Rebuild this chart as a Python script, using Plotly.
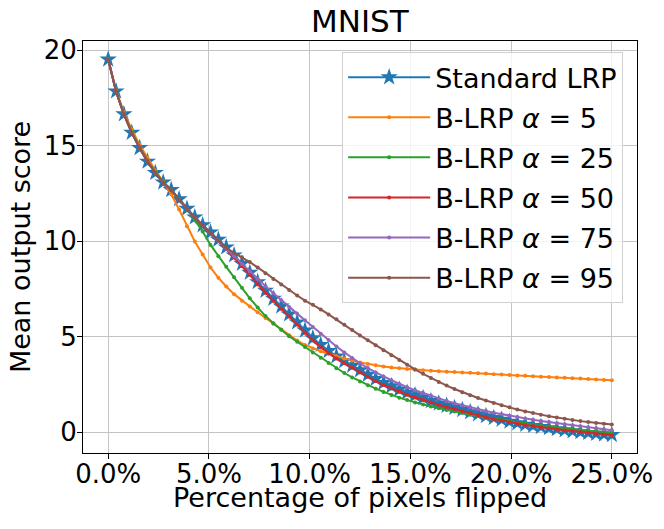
import plotly.graph_objects as go

pct_flipped = [0.00, 0.39, 0.78, 1.17, 1.56, 1.95, 2.34, 2.73, 3.13, 3.52,
               3.91, 4.30, 4.69, 5.08, 5.47, 5.86, 6.25, 6.64, 7.03, 7.42,
               7.81, 8.20, 8.59, 8.98, 9.38, 9.77, 10.16, 10.55, 10.94, 11.33,
               11.72, 12.11, 12.50, 12.89, 13.28, 13.67, 14.06, 14.45, 14.84, 15.23,
               15.63, 16.02, 16.41, 16.80, 17.19, 17.58, 17.97, 18.36, 18.75, 19.14,
               19.53, 19.92, 20.31, 20.70, 21.09, 21.48, 21.88, 22.27, 22.66, 23.05,
               23.44, 23.83, 24.22, 24.61, 25.00]

standard_lrp = [19.52, 17.85, 16.65, 15.68, 14.88, 14.17, 13.58, 13.08, 12.68, 12.20,
                11.70, 11.25, 10.84, 10.46, 10.08, 9.68, 9.26, 8.82, 8.35, 7.86,
                7.41, 6.99, 6.58, 6.17, 5.75, 5.32, 4.92, 4.57, 4.25, 3.97,
                3.72, 3.48, 3.24, 3.01, 2.79, 2.58, 2.40, 2.23, 2.07, 1.93,
                1.79, 1.63, 1.50, 1.38, 1.27, 1.16, 1.05, 0.94, 0.84, 0.74,
                0.65, 0.55, 0.47, 0.39, 0.33, 0.27, 0.21, 0.16, 0.10, 0.05,
                0.00, -0.04, -0.08, -0.12, -0.15]

blrp_a5 = [19.52, 17.90, 16.75, 15.85, 15.05, 14.35, 13.70, 13.12, 12.45, 11.65,
           10.78, 9.98, 9.30, 8.62, 8.08, 7.62, 7.22, 6.88, 6.58, 6.27,
           5.97, 5.67, 5.37, 5.07, 4.79, 4.56, 4.38, 4.23, 4.10, 3.97,
           3.85, 3.74, 3.64, 3.56, 3.49, 3.43, 3.38, 3.34, 3.30, 3.27,
           3.24, 3.21, 3.18, 3.16, 3.14, 3.12, 3.10, 3.08, 3.06, 3.03,
           3.01, 2.98, 2.96, 2.94, 2.92, 2.90, 2.88, 2.86, 2.84, 2.82,
           2.80, 2.77, 2.75, 2.73, 2.71]

blrp_a25 = [19.52, 17.85, 16.68, 15.72, 14.93, 14.22, 13.62, 13.10, 12.70, 12.20,
            11.68, 11.10, 10.50, 9.80, 9.20, 8.65, 8.10, 7.55, 7.00, 6.52,
            6.07, 5.70, 5.35, 5.02, 4.73, 4.45, 4.17, 3.89, 3.61, 3.34,
            3.09, 2.86, 2.65, 2.45, 2.27, 2.10, 1.94, 1.80, 1.67, 1.55,
            1.44, 1.34, 1.24, 1.15, 1.07, 0.99, 0.91, 0.84, 0.77, 0.70,
            0.63, 0.56, 0.50, 0.44, 0.38, 0.33, 0.28, 0.23, 0.19, 0.15,
            0.11, 0.07, 0.04, 0.01, -0.03]

blrp_a50 = [19.52, 17.83, 16.63, 15.67, 14.87, 14.16, 13.57, 13.06, 12.66, 12.18,
            11.68, 11.22, 10.80, 10.42, 10.02, 9.58, 9.14, 8.70, 8.23, 7.74,
            7.29, 6.87, 6.46, 6.05, 5.63, 5.20, 4.80, 4.45, 4.13, 3.85,
            3.60, 3.36, 3.12, 2.89, 2.67, 2.46, 2.28, 2.11, 1.95, 1.81,
            1.67, 1.55, 1.43, 1.31, 1.20, 1.09, 0.99, 0.88, 0.78, 0.68,
            0.60, 0.51, 0.44, 0.37, 0.31, 0.25, 0.19, 0.14, 0.09, 0.05,
            0.00, -0.04, -0.09, -0.13, -0.17]

blrp_a75 = [19.52, 17.83, 16.63, 15.67, 14.87, 14.16, 13.57, 13.06, 12.66, 12.18,
            11.68, 11.22, 10.80, 10.42, 10.02, 9.60, 9.20, 8.80, 8.41, 8.02,
            7.64, 7.27, 6.90, 6.55, 6.20, 5.85, 5.50, 5.15, 4.82, 4.48,
            4.17, 3.88, 3.60, 3.35, 3.12, 2.91, 2.71, 2.52, 2.35, 2.19,
            2.04, 1.90, 1.76, 1.63, 1.51, 1.40, 1.29, 1.19, 1.10, 1.01,
            0.93, 0.85, 0.78, 0.71, 0.64, 0.58, 0.52, 0.46, 0.40, 0.35,
            0.30, 0.25, 0.20, 0.14, 0.09]

blrp_a95 = [19.52, 17.83, 16.63, 15.67, 14.87, 14.16, 13.57, 13.06, 12.66, 12.18,
            11.68, 11.22, 10.80, 10.42, 10.02, 9.65, 9.38, 9.15, 8.90, 8.62,
            8.32, 8.02, 7.73, 7.44, 7.15, 6.88, 6.66, 6.42, 6.16, 5.90,
            5.62, 5.34, 5.06, 4.80, 4.54, 4.28, 4.02, 3.77, 3.52, 3.28,
            3.05, 2.83, 2.62, 2.43, 2.25, 2.08, 1.92, 1.78, 1.65, 1.52,
            1.40, 1.29, 1.18, 1.08, 0.99, 0.91, 0.83, 0.76, 0.69, 0.63,
            0.57, 0.52, 0.47, 0.43, 0.39]

x_tick_vals = [0, 5, 10, 15, 20, 25]
x_tick_text = ["0.0%", "5.0%", "10.0%", "15.0%", "20.0%", "25.0%"]
y_tick_vals = [0, 5, 10, 15, 20]

series = [
    ("Standard LRP", standard_lrp, "#1f77b4"),
    ("B-LRP <i>α</i> = 5", blrp_a5, "#ff7f0e"),
    ("B-LRP <i>α</i> = 25", blrp_a25, "#2ca02c"),
    ("B-LRP <i>α</i> = 50", blrp_a50, "#d62728"),
    ("B-LRP <i>α</i> = 75", blrp_a75, "#9467bd"),
    ("B-LRP <i>α</i> = 95", blrp_a95, "#8c564b"),
]

FONT = "DejaVu Sans"
fig = go.Figure()
for i, (name, vals, color) in enumerate(series):
    if i == 0:
        marker = dict(symbol="star", size=13, color=color, line=dict(width=0))
    else:
        marker = dict(symbol="circle", size=4, color=color, line=dict(width=0))
    fig.add_trace(go.Scatter(
        x=pct_flipped, y=vals, name=name, mode="lines+markers",
        legendgroup=f"g{i}",
        line=dict(color=color, width=2), marker=marker,
    ))

axis_common = dict(
    showline=True, linecolor="black", linewidth=1, mirror=True,
    ticks="outside", ticklen=5, tickcolor="black", tickwidth=1,
    showgrid=True, gridcolor="#c4c4c4", gridwidth=1, zeroline=False,
    automargin=False,
    tickfont=dict(family=FONT, size=26, color="black"),
)

# the page body adds an 8px offset, so the margins compensate for it
fig.update_layout(
    width=664, height=529,
    margin=dict(l=75, r=35, t=33, b=84, autoexpand=False),
    paper_bgcolor="white", plot_bgcolor="white",
    font=dict(family=FONT, color="black"),
    xaxis=dict(range=[-1.25, 26.25], tickvals=x_tick_vals, ticktext=x_tick_text,
               ticklabelstandoff=-7, **axis_common),
    yaxis=dict(range=[-1.1, 20.48], tickvals=y_tick_vals, ticklabelstandoff=-5,
               **axis_common),
    legend=dict(x=0.975, y=0.973, xanchor="right", yanchor="top",
                bgcolor="rgba(255,255,255,0.8)", bordercolor="#d0d0d0", borderwidth=1,
                font=dict(family=FONT, size=27, color="black"),
                itemwidth=82, tracegroupgap=2, traceorder="grouped"),
    showlegend=True,
    annotations=[
        dict(text="MNIST", xref="paper", yref="paper", x=0.5, y=1.0485,
             xanchor="center", yanchor="middle", showarrow=False,
             font=dict(family=FONT, size=31, color="black")),
        dict(text="Percentage of pixels flipped", xref="paper", yref="paper",
             x=0.5, y=-0.107, xanchor="center", yanchor="middle", showarrow=False,
             font=dict(family=FONT, size=27, color="black")),
        dict(text="Mean output score", xref="paper", yref="paper",
             x=-0.1135, y=0.5, xanchor="center", yanchor="middle", showarrow=False,
             textangle=-90, font=dict(family=FONT, size=27, color="black")),
    ],
)

fig.write_html("out.html")
